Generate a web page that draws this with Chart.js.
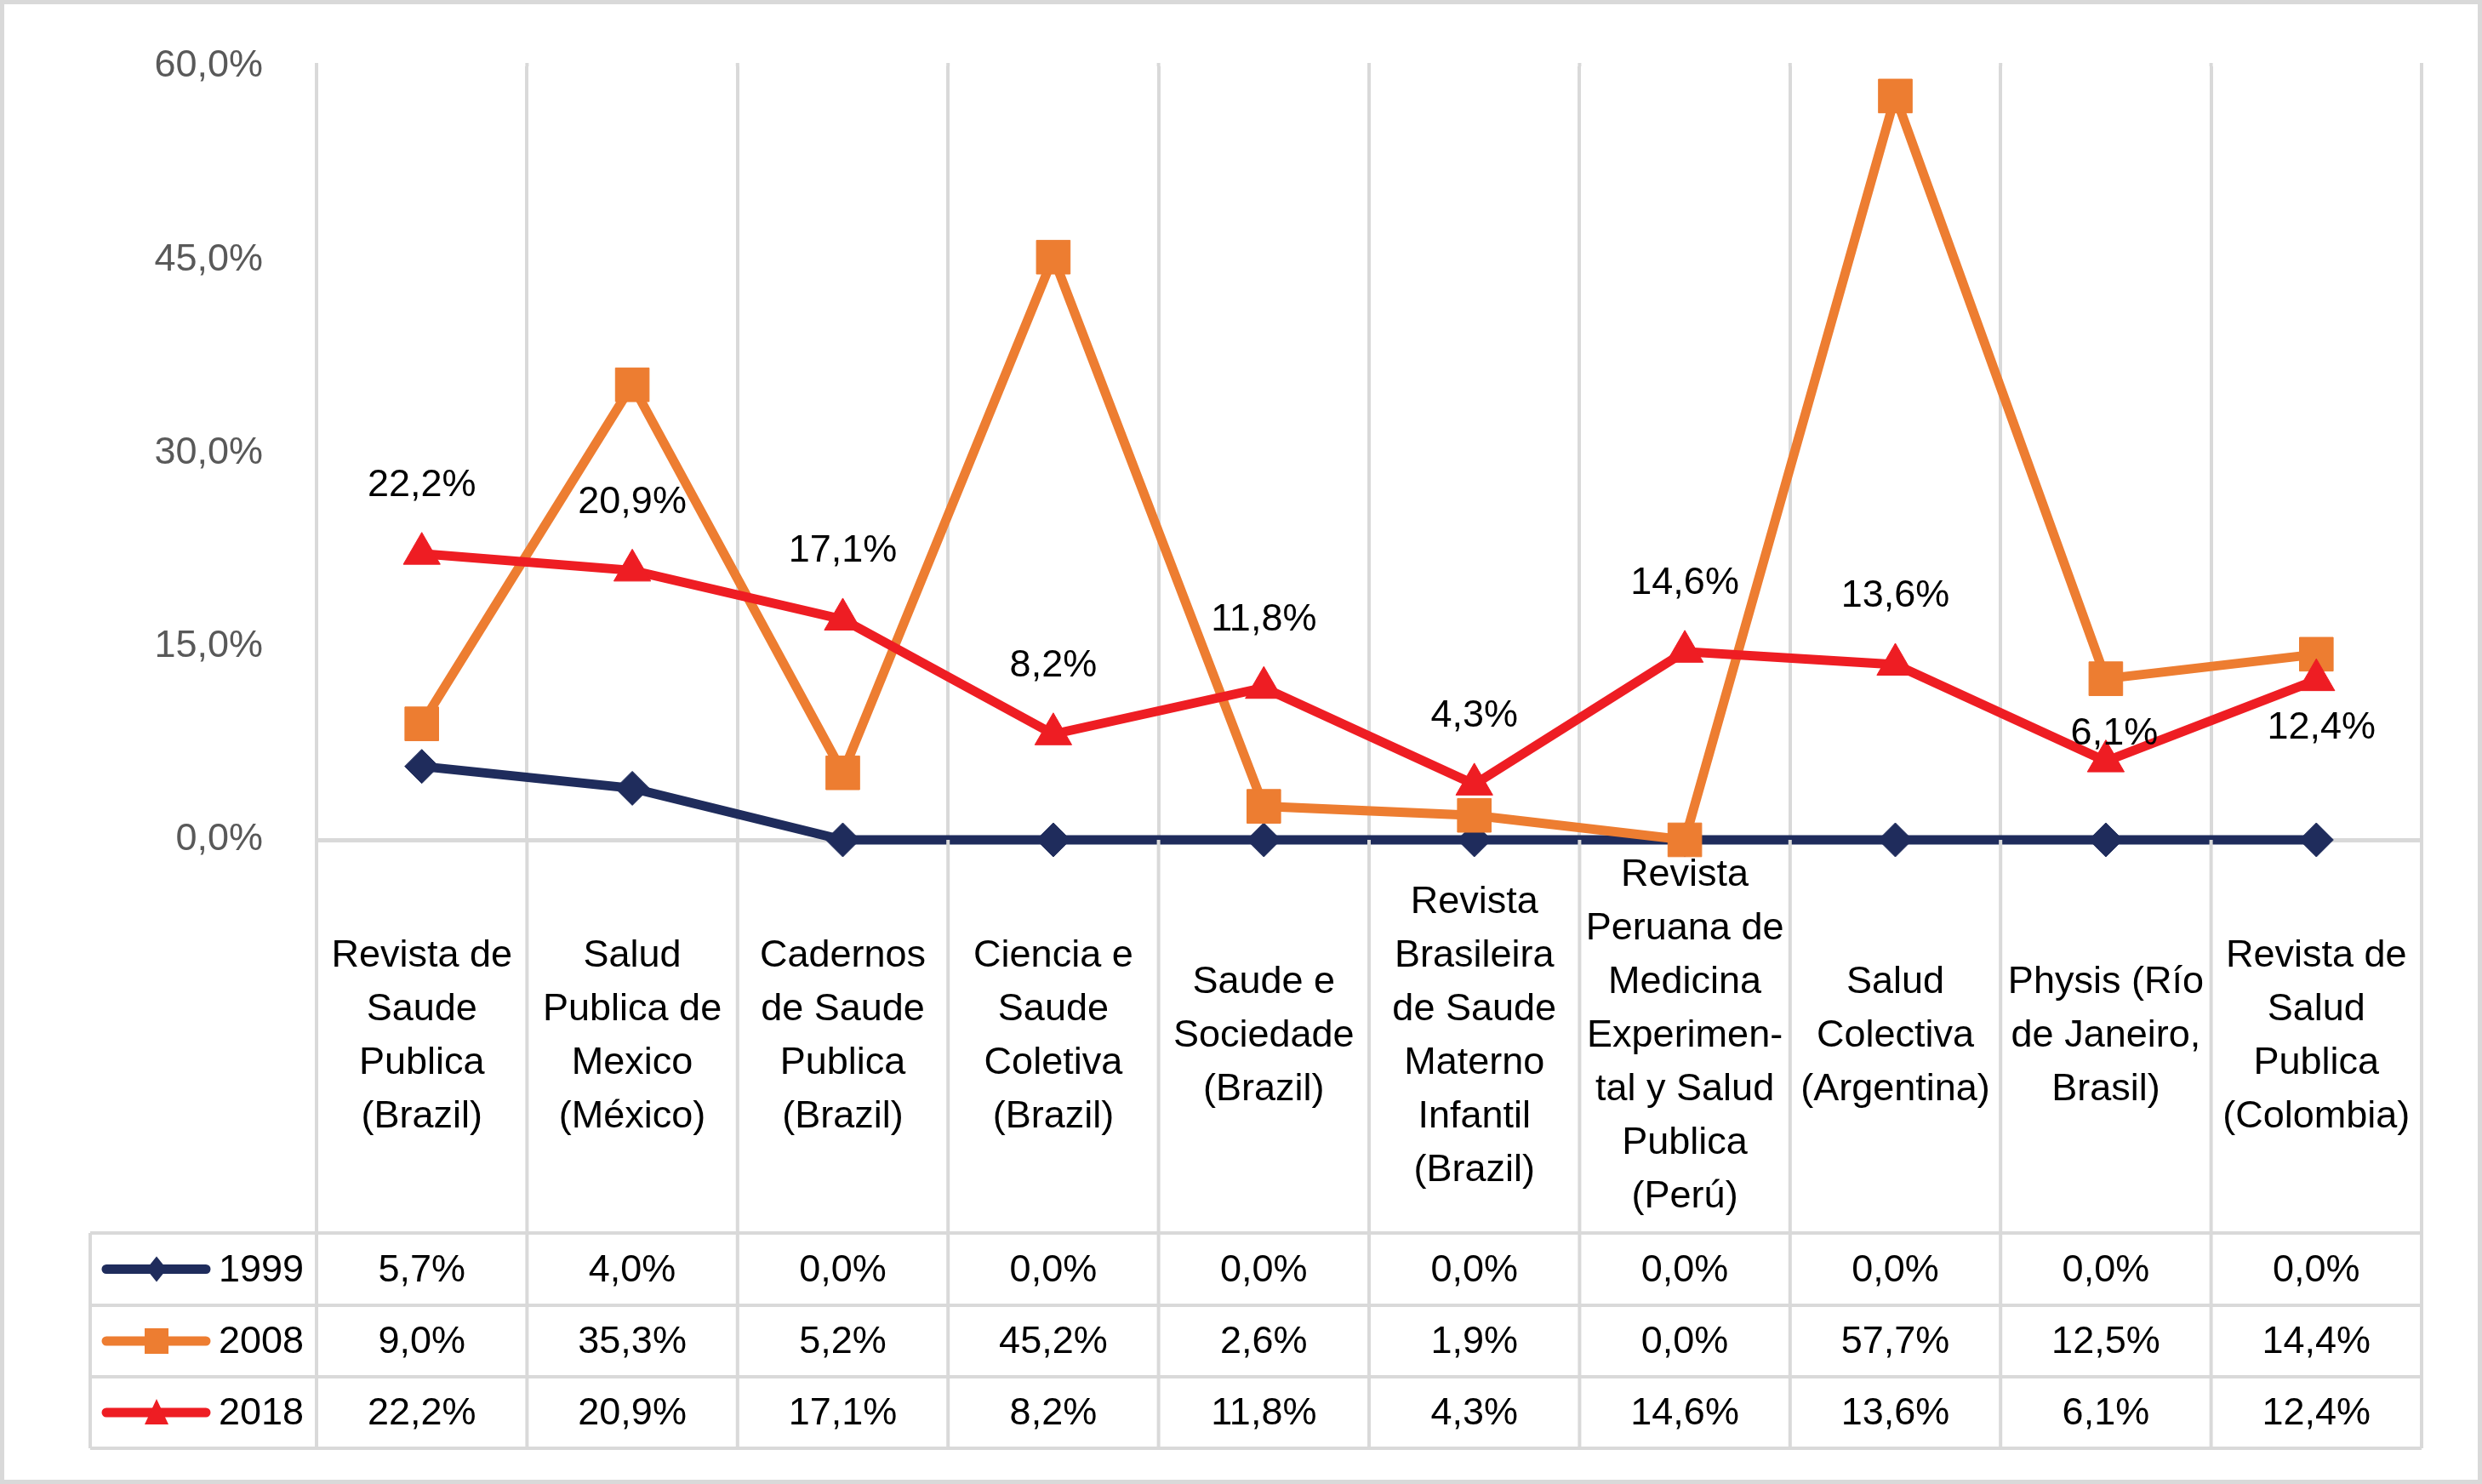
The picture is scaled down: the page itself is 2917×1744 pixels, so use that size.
<!DOCTYPE html>
<html>
<head>
  <meta charset="utf-8">
  <title>Revistas de salud publica 1999, 2008, 2018</title>
  <script src="https://cdn.jsdelivr.net/npm/chart.js"></script>
  <style>
    body { margin: 0; background: #fff; }
    canvas { display: block; }
  </style>
</head>
<body>
  <canvas id="myChart" width="2917" height="1744"></canvas>

  <script>
    // journal names, already broken into lines as in the original
    const journals = [
      ['Revista de', 'Saude', 'Publica', '(Brazil)'],
      ['Salud', 'Publica de', 'Mexico', '(México)'],
      ['Cadernos', 'de Saude', 'Publica', '(Brazil)'],
      ['Ciencia e', 'Saude', 'Coletiva', '(Brazil)'],
      ['Saude e', 'Sociedade', '(Brazil)'],
      ['Revista', 'Brasileira', 'de Saude', 'Materno', 'Infantil', '(Brazil)'],
      ['Revista', 'Peruana de', 'Medicina', 'Experimen-', 'tal y Salud', 'Publica', '(Perú)'],
      ['Salud', 'Colectiva', '(Argentina)'],
      ['Physis (Río', 'de Janeiro,', 'Brasil)'],
      ['Revista de', 'Salud', 'Publica', '(Colombia)']
    ];
    const years = ['1999', '2008', '2018'];
    const values1999 = [5.7, 4.0, 0.0, 0.0, 0.0, 0.0, 0.0, 0.0, 0.0, 0.0];
    const values2008 = [9.0, 35.3, 5.2, 45.2, 2.6, 1.9, 0.0, 57.7, 12.5, 14.4];
    const values2018 = [22.2, 20.9, 17.1, 8.2, 11.8, 4.3, 14.6, 13.6, 6.1, 12.4];
    const yTicks = [0, 15, 30, 45, 60];

    const NAVY = '#1F2C5C';
    const ORANGE = '#ED7D31';
    const RED = '#EE1D23';
    const GRID = '#D9D9D9';
    const FONT = "'Liberation Sans', Arial, sans-serif";

    function pct(v) {
      return v.toFixed(1).replace('.', ',') + '%';
    }

    // little markers in the first column of the data table
    function legendMarker(ctx, style, cx, cy, color) {
      ctx.fillStyle = color;
      ctx.beginPath();
      if (style === 'diamond') {
        ctx.moveTo(cx, cy - 15);
        ctx.lineTo(cx + 12, cy);
        ctx.lineTo(cx, cy + 15);
        ctx.lineTo(cx - 12, cy);
      } else if (style === 'square') {
        ctx.rect(cx - 14, cy - 15, 28, 30);
      } else {
        ctx.moveTo(cx, cy - 16);
        ctx.lineTo(cx + 14, cy + 14);
        ctx.lineTo(cx - 14, cy + 14);
      }
      ctx.closePath();
      ctx.fill();
    }

    const tablePlugin = {
      id: 'dataTable',
      afterDatasetsDraw(chart) {
        // value labels of the 2018 series
        const ctx = chart.ctx;
        const meta = chart.getDatasetMeta(2);
        const offsets = [[0, -80], [0, -80], [0, -80], [0, -80], [0, -80],
                         [0, -80], [0, -80], [0, -80], [10, -32], [6, 56]];
        ctx.save();
        ctx.font = '45px ' + FONT;
        ctx.fillStyle = '#000';
        ctx.textAlign = 'center';
        ctx.textBaseline = 'middle';
        meta.data.forEach((pt, i) => {
          ctx.fillText(pct(values2018[i]), pt.x + offsets[i][0], pt.y + offsets[i][1]);
        });
        ctx.restore();
      },
      afterDraw(chart) {
        const ctx = chart.ctx;
        const xs = chart.scales.x;
        const area = chart.chartArea;
        const step = xs.getPixelForValue(1) - xs.getPixelForValue(0);
        const rows = [1449, 1534, 1618, 1702];
        const tableLeft = 106;

        ctx.save();
        ctx.strokeStyle = GRID;
        ctx.lineWidth = 4;
        ctx.beginPath();
        for (let i = 0; i <= journals.length; i++) {
          const bx = area.left + i * step;
          ctx.moveTo(bx, area.top - 4);
          ctx.lineTo(bx, area.top);
          ctx.moveTo(bx, area.bottom);
          ctx.lineTo(bx, rows[3]);
        }
        ctx.moveTo(tableLeft, rows[0]);
        ctx.lineTo(tableLeft, rows[3]);
        rows.forEach(r => {
          ctx.moveTo(tableLeft, r);
          ctx.lineTo(area.right, r);
        });
        ctx.stroke();

        // category names, centred between the axis and the table
        ctx.font = '45px ' + FONT;
        ctx.fillStyle = '#000';
        ctx.textAlign = 'center';
        ctx.textBaseline = 'middle';
        const mid = (area.bottom + rows[0]) / 2;
        journals.forEach((lines, i) => {
          const cx = xs.getPixelForValue(i);
          const y0 = mid - (lines.length - 1) * 63 / 2;
          lines.forEach((line, k) => ctx.fillText(line, cx, y0 + k * 63));
        });

        // table body
        const series = [values1999, values2008, values2018];
        const colors = [NAVY, ORANGE, RED];
        const markers = ['diamond', 'square', 'triangle'];
        series.forEach((vals, r) => {
          const cy = (rows[r] + rows[r + 1]) / 2;
          vals.forEach((v, i) => {
            ctx.fillStyle = '#000';
            ctx.textAlign = 'center';
            ctx.fillText(pct(v), xs.getPixelForValue(i), cy + 2);
          });
          ctx.strokeStyle = colors[r];
          ctx.lineWidth = 11;
          ctx.lineCap = 'round';
          ctx.beginPath();
          ctx.moveTo(125, cy);
          ctx.lineTo(242, cy);
          ctx.stroke();
          legendMarker(ctx, markers[r], 184, cy, colors[r]);
          ctx.fillStyle = '#000';
          ctx.textAlign = 'left';
          ctx.fillText(years[r], 257, cy + 2);
        });

        // outer frame
        ctx.strokeStyle = GRID;
        ctx.lineWidth = 5;
        ctx.lineCap = 'butt';
        ctx.strokeRect(2.5, 2.5, chart.width - 5, chart.height - 5);
        ctx.restore();
      }
    };

    Chart.defaults.font.family = FONT;
    Chart.defaults.font.size = 45;

    const ctx = document.getElementById('myChart').getContext('2d');
    const chart = new Chart(ctx, {
      type: 'line',
      data: {
        labels: journals.map(l => l.join(' ')),
        datasets: [{
          label: years[0],
          data: values1999,
          borderColor: NAVY,
          backgroundColor: NAVY,
          borderWidth: 11,
          pointStyle: 'rectRot',
          pointRadius: 20,
          pointBorderWidth: 1,
          order: 2
        }, {
          label: years[1],
          data: values2008,
          borderColor: ORANGE,
          backgroundColor: ORANGE,
          borderWidth: 11,
          pointStyle: 'rect',
          pointRadius: 28,
          pointBorderWidth: 1,
          order: 1
        }, {
          label: years[2],
          data: values2018,
          borderColor: RED,
          backgroundColor: RED,
          borderWidth: 11,
          pointStyle: 'triangle',
          pointRadius: 25,
          pointBorderWidth: 1,
          order: 0
        }]
      },
      options: {
        responsive: false,
        devicePixelRatio: 1,
        animation: false,
        clip: false,
        layout: { padding: { top: 78, right: 71, left: 0, bottom: 0 } },
        plugins: {
          legend: { display: false },
          tooltip: { enabled: false }
        },
        scales: {
          x: {
            offset: true,
            grid: { offset: true, color: GRID, lineWidth: 4, drawTicks: false },
            border: { display: false },
            ticks: { display: false },
            afterFit: s => { s.height = 757; }
          },
          y: {
            min: 0,
            max: 60,
            afterBuildTicks: s => { s.ticks = yTicks.map(v => ({ value: v })); },
            grid: {
              color: c => c.tick.value === 0 ? GRID : 'rgba(0,0,0,0)',
              lineWidth: 5,
              drawTicks: false
            },
            border: { display: false },
            ticks: {
              color: '#595959',
              padding: 63,
              font: { size: 45 },
              callback: v => pct(v)
            },
            afterFit: s => {
              s.width = 372;
              s.paddingTop = 0;
              s.paddingBottom = 0;
            }
          }
        }
      },
      plugins: [tablePlugin]
    });
  </script>
</body>
</html>
